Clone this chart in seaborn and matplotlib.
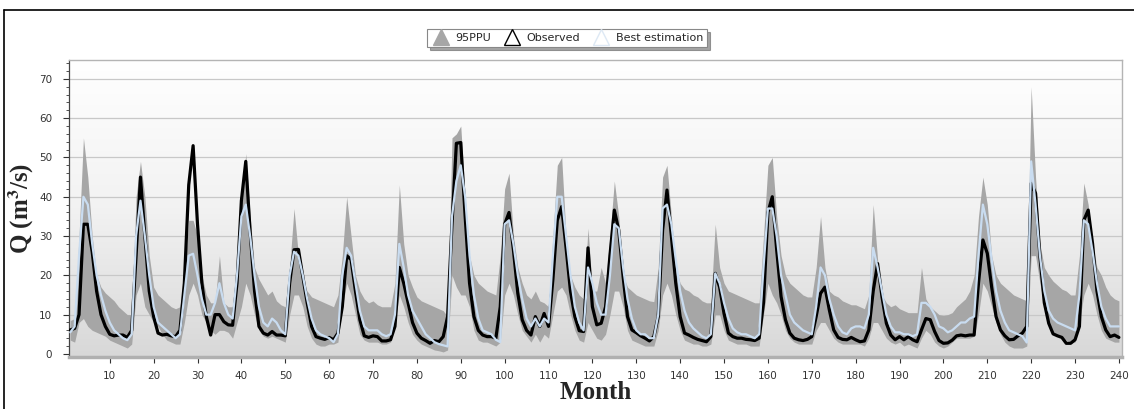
import numpy as np
import pandas as pd
import matplotlib
matplotlib.use("Agg")
import matplotlib.pyplot as plt
import seaborn as sns
from matplotlib.lines import Line2D
from matplotlib.colors import LinearSegmentedColormap
from matplotlib.ticker import MultipleLocator

# monthly discharge, months 1..240 (one row per year)
observed = [
    6.1, 6.5, 10, 33, 33, 26, 16, 10, 7, 5, 4.6, 4.8,
    4.8, 4.2, 6, 25, 45, 30, 16, 9.5, 5.3, 4.8, 5, 4.6,
    4.4, 6, 18, 43, 53, 33, 18, 9.5, 4.8, 10, 10, 8.2,
    7.4, 7.3, 18, 39, 49, 31, 16, 7, 5.3, 4.8, 5.7, 4.8,
    4.8, 4.6, 18, 26.5, 26.6, 19.7, 13, 7, 4.4, 4, 3.7, 4.2,
    3.6, 5.3, 12, 25, 24, 16, 8.7, 4.6, 4.2, 4.6, 4.4, 3.3,
    3.3, 3.6, 7, 22, 18, 13, 8, 5.3, 4, 3.4, 2.7, 3.4,
    3.1, 4.4, 9.5, 33, 53.6, 53.8, 35, 18, 9.5, 6, 4.8, 4.4,
    4.4, 4, 12, 33, 36, 26.5, 15.4, 8.7, 6, 4.8, 9.5, 7,
    10.3, 7, 19, 34, 37.5, 27, 16, 9.5, 5.9, 5.7, 27, 12,
    7.4, 7.8, 12, 25, 36.6, 31.5, 19.7, 9.5, 6.1, 5.4, 4.6, 4,
    3.3, 4.4, 9.5, 31.5, 41.7, 30, 18, 9.5, 5.3, 4.8, 4.2, 3.7,
    3.4, 3.1, 4.4, 20.5, 17, 10.3, 5.3, 4.4, 4, 4, 3.7, 3.6,
    3.4, 4, 13, 36, 40, 26.5, 14.6, 8.7, 5.3, 4, 3.6, 3.4,
    3.7, 4.4, 9.5, 15.4, 17, 11.2, 6.1, 4.2, 3.7, 3.6, 4.2, 3.6,
    3.1, 3.3, 6.1, 16, 23, 14.6, 7.8, 4.8, 3.6, 4.4, 3.6, 4.4,
    3.6, 3.1, 6.1, 9, 8.7, 5.7, 3.4, 2.7, 2.8, 3.5, 4.6, 4.8,
    4.6, 4.8, 4.8, 18, 29, 25.6, 17, 9.5, 6.1, 4.6, 3.6, 3.7,
    4.6, 5.3, 7, 43.4, 40.9, 24.8, 13, 7.8, 5.1, 4.6, 4.2, 2.7,
    2.7, 3.6, 7, 34, 36.6, 28, 16, 9.5, 6.1, 4.4, 4.8, 4.2,
]

best_estimation = [
    5.5, 7, 25, 40, 38, 28, 20, 15, 11, 8, 6, 5,
    4, 3.5, 5, 30, 39, 30, 20, 12, 8, 7, 6, 5,
    4, 5, 15, 25, 25.5, 20, 14, 10, 10, 13, 18, 13,
    10, 9, 20, 35, 38, 30, 20, 12, 8, 7, 9, 8,
    6, 5, 20, 26, 25, 20, 14, 9, 6, 5, 4.5, 4,
    3, 5, 20, 27, 25, 18, 11, 7, 6, 6, 6, 5,
    4.5, 5, 10, 28, 22, 15, 11, 9, 7, 5, 4, 3,
    2.5, 2.2, 1.9, 35, 44, 48, 40, 25, 15, 9, 6, 5.5,
    5, 3.6, 3, 33, 34, 28, 20, 14, 9, 7, 9, 7,
    9, 8, 25, 40, 40, 30, 20, 12, 8, 6, 22, 18,
    13, 10, 10, 20, 33, 32, 22, 14, 9, 6, 5, 5,
    4, 4, 10, 37, 38, 33, 24, 16, 11, 8, 6.5, 5.5,
    4.5, 4, 5, 20.5, 18, 13, 9, 6.5, 5.5, 5, 5, 4.5,
    4, 5, 22, 37, 37, 30, 20, 15, 10, 8, 7, 6,
    5.5, 5, 12, 22, 20, 14, 10, 7, 5.5, 5, 6.5, 7,
    7, 6.5, 10, 27, 22, 16, 10, 7, 5.5, 5.5, 5, 5,
    4.5, 5, 13, 13, 12, 10, 7, 6.5, 5.5, 6, 7, 8,
    8, 9, 9.5, 25, 38, 33, 24, 16, 11, 8, 6, 5.5,
    5, 4.5, 2.9, 49, 38, 25, 16, 11, 9, 8, 7.5, 7,
    6.5, 6, 15, 34, 33, 26, 18, 12, 9, 7, 7, 7,
]

ppu_upper = [
    8.5, 9, 30, 55, 45, 30, 20, 17, 15.5, 14.5, 13.5, 12,
    11, 10, 10, 40, 49, 40, 25, 17, 15, 14, 13, 12,
    11.5, 12, 20, 34, 34, 30, 20, 15, 13, 13, 25, 13,
    12, 12, 25, 38, 51, 35, 22, 19, 17, 15, 16, 13.5,
    12.5, 12, 22, 37, 25, 18, 16, 14.5, 14, 13.5, 13, 12.5,
    12, 15, 25, 40, 30, 20, 16, 14, 13, 13.5, 12.5, 12,
    12, 12, 18, 43, 28, 20, 17, 14.5, 13.5, 13, 12.5, 12,
    11.5, 11, 9.5, 55, 56, 58, 40, 25, 20, 18, 17, 16,
    15.5, 15, 25, 42, 46, 30, 22, 18, 15, 14, 16, 13.5,
    13, 12, 30, 48, 50, 30, 20, 17, 15, 14, 32, 16,
    16, 22, 18, 30, 44, 35, 20, 17, 16, 15, 14.5, 14,
    13.5, 13.3, 22, 45, 48, 35, 22, 18, 16.5, 16, 15, 14.5,
    13.5, 13, 13, 33, 22, 18, 16, 15.5, 15, 14.5, 14, 13.5,
    13, 13, 30, 48, 50, 35, 25, 20, 18, 17, 16, 15,
    14.5, 14.5, 22, 35, 22, 16, 15, 14.5, 13.5, 13, 12.5, 12.5,
    12, 11.5, 15, 38, 24, 15, 13, 12, 12.5, 11.5, 11, 10.5,
    10.5, 10.5, 22, 14, 12, 11, 10, 9.8, 10, 10.5, 12, 13,
    14, 16, 20, 35, 45, 38, 25, 20, 18, 17, 16, 15,
    14.5, 14, 13.5, 68, 45, 28, 22, 20, 18.5, 17.5, 16.5, 16,
    15, 15, 25, 43.5, 38, 28, 22, 20, 17, 15, 14, 13.5,
]

ppu_lower = [
    3.5, 3, 8, 9, 7, 6, 5.5, 5, 4.5, 3.5, 3, 2.5,
    2, 1.5, 2.5, 15, 18, 12, 10, 8, 7, 5, 3.5, 3,
    2.5, 2.5, 8, 15, 18, 15, 10, 8, 6, 5, 6, 6,
    5.5, 4, 8, 12, 18, 15, 10, 6, 4.5, 4, 4.5, 4,
    3.5, 3, 10, 15, 15, 12, 7, 4, 2.5, 2, 2, 2.5,
    2.5, 3, 12, 18, 15, 10, 5, 3.5, 3, 3, 3, 2.5,
    2.5, 3, 8, 15, 12, 8, 5, 3.5, 2.5, 2, 1.5, 1,
    0.8, 0.5, 1, 20, 17, 15, 15, 12, 6, 3.5, 3, 3,
    2.5, 2, 3, 15, 18, 15, 10, 6, 4.5, 3, 5, 3,
    5, 4, 10, 16, 17, 15, 10, 6, 3.5, 3, 8, 6,
    4, 3.5, 5, 10, 16, 16, 12, 6, 3.5, 3, 2.5, 2,
    2, 2, 6, 15, 18, 15, 10, 6, 3.5, 3, 2.5, 2.5,
    2, 2, 2.5, 10, 10, 6, 3.5, 3, 2.5, 2.5, 2.5, 2,
    2, 2, 10, 18, 15, 13, 10, 6, 4, 3, 2.5, 2.5,
    2.5, 2.5, 6, 8, 8, 6, 4, 3, 2.5, 2.5, 2.5, 2.5,
    2.5, 2, 4, 8, 8, 6, 4, 3, 2.5, 3, 2, 2.5,
    2, 1.5, 4, 6, 5, 3, 2, 1.5, 2, 3, 4, 4,
    4, 4, 4.5, 10, 18, 16, 12, 8, 5, 3, 2, 1.5,
    1.5, 1.5, 2, 25, 25, 18, 12, 7, 5, 4.5, 4, 3.5,
    3, 3, 8, 15, 18, 15, 10, 6, 4, 3.5, 3, 3,
]

months = np.arange(1, len(observed) + 1)
df = pd.DataFrame({"Month": months, "Observed": observed,
                   "Best": best_estimation,
                   "Upper": ppu_upper, "Lower": ppu_lower})

sns.set_style("white")
plt.rcParams["mathtext.fontset"] = "stix"

fig = plt.figure(figsize=(11.34, 4.09), dpi=100)
ax = fig.add_axes([0.0608, 0.127, 0.9286, 0.7263])

# gradient background (white at top, light grey at bottom)
grad_cmap = LinearSegmentedColormap.from_list("bg", ["#d8d8d8", "#f2f2f2", "#ffffff"])
ax.imshow(np.linspace(0, 1, 256)[:, None], extent=[0.7, 240.7, -0.8, 74.8],
          origin="lower", aspect="auto", cmap=grad_cmap, zorder=0)

for yv in range(10, 80, 10):
    ax.axhline(yv, color="#c8c8c8", lw=0.9, zorder=1)

ax.fill_between(df["Month"], df["Lower"], df["Upper"], color="#a6a6a6",
                lw=0, zorder=2)
sns.lineplot(data=df, x="Month", y="Observed", color="black", lw=2.3,
             ax=ax, zorder=3)
sns.lineplot(data=df, x="Month", y="Best", color="#c9dcf0", lw=1.6,
             ax=ax, zorder=4)

ax.set_xlim(0.7, 240.7)
ax.set_ylim(-0.8, 74.8)
ax.set_xticks(range(10, 241, 10))
ax.set_yticks(range(0, 71, 10))
ax.yaxis.set_minor_locator(MultipleLocator(2))
ax.tick_params(axis="both", which="major", labelsize=7.5, colors="#333333",
               length=4, width=0.8, direction="out")
ax.tick_params(axis="y", which="minor", length=2, width=0.6, colors="#333333")
ax.tick_params(axis="x", pad=6)
ax.tick_params(axis="y", pad=8)
ax.xaxis.set_ticks_position("bottom")
ax.yaxis.set_ticks_position("left")

for side in ["top", "right"]:
    ax.spines[side].set_color("#b4b4b4")
    ax.spines[side].set_linewidth(1.0)
ax.spines["bottom"].set_color("#b0b0b0")
ax.spines["bottom"].set_linewidth(2.5)
ax.spines["left"].set_color("#444444")
ax.spines["left"].set_linewidth(0.9)

ax.set_xlabel("Month", family="Liberation Serif", fontweight="bold",
              fontsize=18, labelpad=0)
ax.set_ylabel(r"Q (m$^\mathbf{3}$/s)", family="Liberation Serif",
              fontweight="bold", fontsize=18, labelpad=2)

handles = [
    Line2D([], [], marker="^", ls="none", markersize=11,
           markerfacecolor="#a6a6a6", markeredgecolor="#a6a6a6"),
    Line2D([], [], marker="^", ls="none", markersize=11,
           markerfacecolor="none", markeredgecolor="black", markeredgewidth=1.0),
    Line2D([], [], marker="^", ls="none", markersize=11,
           markerfacecolor="none", markeredgecolor="#dde8f4", markeredgewidth=1.0),
]
leg = fig.legend(handles, ["95PPU", "Observed", "Best estimation"],
                 loc="center", bbox_to_anchor=(0.5, 0.907), ncol=3,
                 fontsize=8, frameon=True, shadow=True, fancybox=False,
                 handlelength=1.8, handletextpad=0.4, columnspacing=1.0,
                 borderpad=0.35, edgecolor="#888888")
leg.get_frame().set_linewidth(0.8)

# outer frame lines of the screenshot
fig.add_artist(Line2D([4 / 1134, 1], [1 - 10 / 409, 1 - 10 / 409],
                      color="black", lw=1.2, transform=fig.transFigure))
fig.add_artist(Line2D([4 / 1134, 4 / 1134], [0, 1 - 10 / 409],
                      color="black", lw=1.2, transform=fig.transFigure))

fig.savefig("out.png", dpi=100)
